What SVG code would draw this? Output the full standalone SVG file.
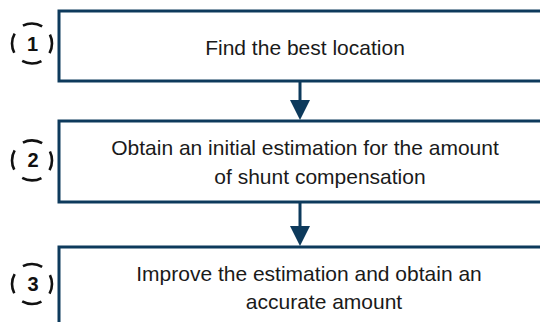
<svg xmlns="http://www.w3.org/2000/svg" width="540" height="322" viewBox="0 0 540 322">
<style>
.box{fill:#fff;stroke:#0d3a5c;stroke-width:3}
.t{font-family:"Liberation Sans",Arial,sans-serif;font-size:21px;fill:#1a1a1a;text-anchor:middle}
.n{font-family:"Liberation Sans",Arial,sans-serif;font-size:20px;font-weight:bold;fill:#111;text-anchor:middle}
.c{fill:none;stroke:#111;stroke-width:2.6;stroke-dasharray:20 11.42;stroke-dashoffset:10}
.conn{stroke:#0d3a5c;stroke-width:3;fill:none}
.head{fill:#0d3a5c}
</style>
<rect width="540" height="322" fill="#fff"/>
<g id="step1">
<rect class="box" x="59" y="11" width="500" height="70"/>
<text class="t" x="305" y="55">Find the best location</text>
<circle class="c" cx="32" cy="43.5" r="20"/>
<text class="n" x="32.5" y="50.5">1</text>
</g>
<g id="step2">
<rect class="box" x="59" y="121" width="500" height="81"/>
<text class="t" x="305" y="155">Obtain an initial estimation for the amount</text>
<text class="t" x="320" y="184">of shunt compensation</text>
<circle class="c" cx="32" cy="160.4" r="20"/>
<text class="n" x="33" y="167.4">2</text>
</g>
<g id="step3">
<rect class="box" x="59" y="247" width="500" height="90"/>
<text class="t" x="309" y="281">Improve the estimation and obtain an</text>
<text class="t" x="324" y="309">accurate amount</text>
<circle class="c" cx="32" cy="284" r="20"/>
<text class="n" x="33" y="291">3</text>
</g>
<g id="connectors">
<line class="conn" x1="300" y1="81" x2="300" y2="102"/>
<polygon class="head" points="290,100 310,100 300,120"/>
<line class="conn" x1="300" y1="202" x2="300" y2="228"/>
<polygon class="head" points="290,226 310,226 300,246"/>
</g>
</svg>
